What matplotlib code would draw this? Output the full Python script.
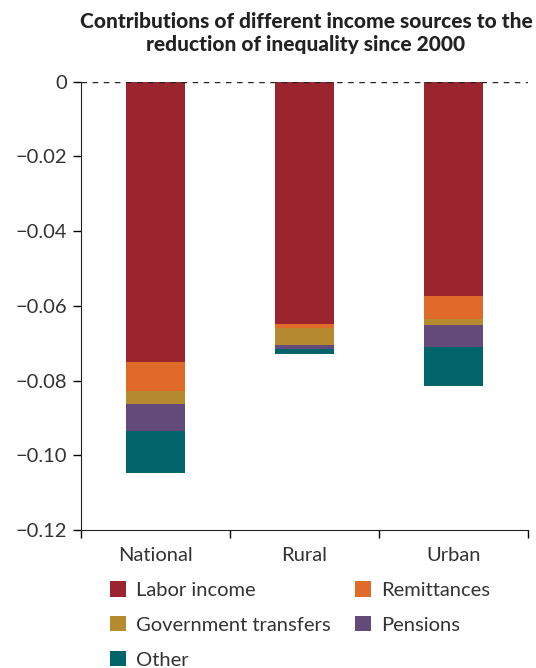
import matplotlib.pyplot as plt
import numpy as np

# data
regions = ['National', 'Rural', 'Urban']
sources = ['Labor income', 'Remittances', 'Government transfers', 'Pensions', 'Other']
labor = [-0.0751, -0.0649, -0.0574]
remittances = [-0.0076, -0.0010, -0.0061]
gov_transfers = [-0.0035, -0.0047, -0.0015]
pensions = [-0.0073, -0.0010, -0.0061]
other = [-0.0112, -0.0013, -0.0104]

colors = ['#9a252e', '#e06a28', '#b68a2e', '#634a78', '#00646a']
y_ticks = [0, -0.02, -0.04, -0.06, -0.08, -0.10, -0.12]
y_ticklabels = ['0', '\u22120.02', '\u22120.04', '\u22120.06', '\u22120.08', '\u22120.10', '\u22120.12']

plt.rcParams['font.family'] = ['Lato', 'DejaVu Sans']

fig = plt.figure(figsize=(5.36, 6.68), dpi=100)
ax = fig.add_axes([0.151, 0.2066, 0.834, 0.671])

x = np.arange(len(regions))
series = [labor, remittances, gov_transfers, pensions, other]
bottom = np.zeros(len(regions))
handles = []
for vals, name, col in zip(series, sources, colors):
    b = ax.bar(x, vals, width=0.4, bottom=bottom, color=col, label=name)
    handles.append(b)
    bottom += np.array(vals)

ax.axhline(0, color='#222222', linestyle=(0, (4, 4)), linewidth=1)

ax.set_xlim(-0.5, 2.5)
ax.set_ylim(-0.12, 0)
ax.set_yticks(y_ticks)
ax.set_yticklabels(y_ticklabels, fontsize=14.5, color='#333333')
ax.tick_params(axis='y', length=6, width=1, pad=4)

# ticks at group boundaries, labels centered under groups
ax.set_xticks([-0.5, 0.5, 1.5, 2.5])
ax.set_xticklabels([])
ax.set_xticks(x, minor=True)
ax.set_xticklabels(regions, minor=True, fontsize=14.5, color='#333333')
ax.tick_params(axis='x', which='major', length=6, width=1)
ax.tick_params(axis='x', which='minor', length=0, pad=12)

for s in ['top', 'right']:
    ax.spines[s].set_visible(False)
for s in ['left', 'bottom']:
    ax.spines[s].set_color('#222222')

fig.text(0.571, 0.982, 'Contributions of different income sources to the\nreduction of inequality since 2000',
         ha='center', va='top', fontsize=15, fontweight='black', color='#222222', linespacing=1.25)

order = [0, 2, 4, 1, 3]
fig.legend([handles[i] for i in order], [sources[i] for i in order],
           loc='upper left', bbox_to_anchor=(0.171, 0.157), bbox_transform=fig.transFigure,
           ncol=2, frameon=False, fontsize=14.5, handlelength=0.8, handleheight=0.8,
           handletextpad=0.5, columnspacing=1.2, labelspacing=0.85, labelcolor='#333333')

fig.savefig('out.png', dpi=100)
